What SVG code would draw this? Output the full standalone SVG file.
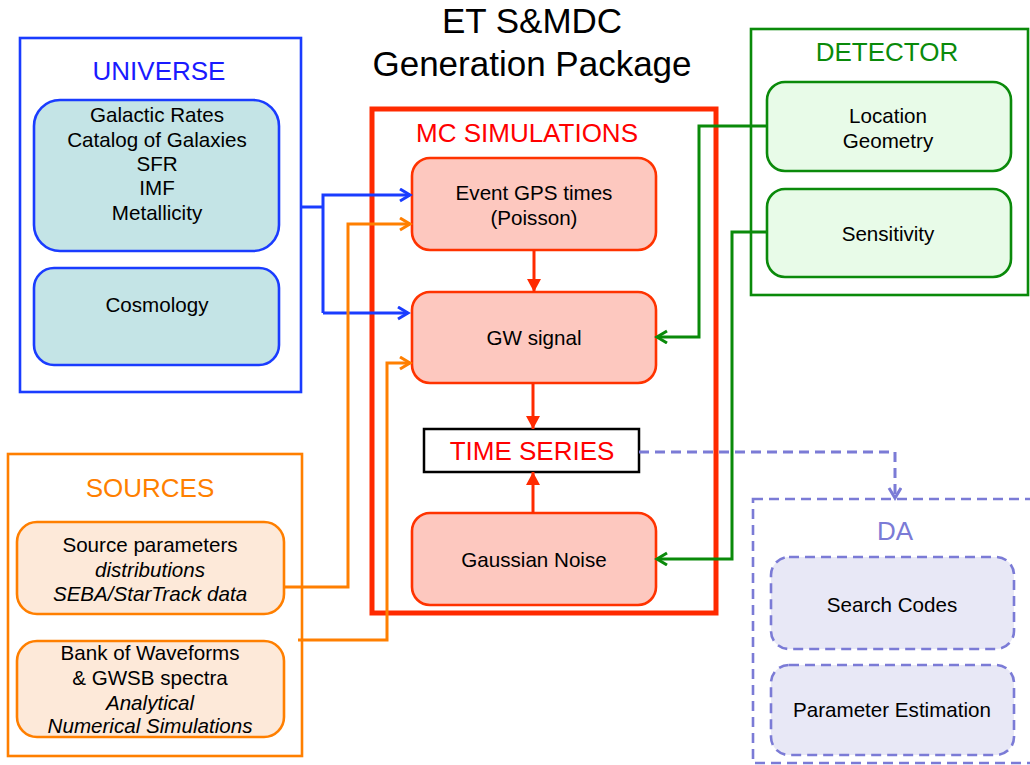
<svg xmlns="http://www.w3.org/2000/svg" width="1030" height="765" viewBox="0 0 1030 765">
<defs>
<style>
text{font-family:"Liberation Sans",Arial,sans-serif;text-anchor:middle;fill:#000}
.t20{font-size:20.6px}
.t26{font-size:26px}
.it{font-style:italic}
.outer{fill:#fff;stroke-width:2.6}
.inner{stroke-width:2.6}
.conn{fill:none;stroke-width:3}
</style>
<marker id="ab" markerUnits="userSpaceOnUse" markerWidth="14" markerHeight="16" refX="11" refY="7" orient="auto"><path d="M1,1 L11,7 L1,13" fill="none" stroke="#1a3cff" stroke-width="3"/></marker>
<marker id="ao" markerUnits="userSpaceOnUse" markerWidth="14" markerHeight="16" refX="11" refY="7" orient="auto"><path d="M1,1 L11,7 L1,13" fill="none" stroke="#ff7f00" stroke-width="3"/></marker>
<marker id="ag" markerUnits="userSpaceOnUse" markerWidth="14" markerHeight="16" refX="11" refY="7" orient="auto"><path d="M1,1 L11,7 L1,13" fill="none" stroke="#0a8a0a" stroke-width="3"/></marker>
<marker id="ap" markerUnits="userSpaceOnUse" markerWidth="14" markerHeight="16" refX="11" refY="7" orient="auto"><path d="M1,1 L11,7 L1,13" fill="none" stroke="#7b7bd6" stroke-width="3"/></marker>
<marker id="ar" markerUnits="userSpaceOnUse" markerWidth="16" markerHeight="16" refX="13" refY="7" orient="auto"><path d="M0,0 L13,7 L0,14 Z" fill="#ff2a00"/></marker>
</defs>

<g id="title">
<text x="532" y="33" style="font-size:35px">ET S&amp;MDC</text>
<text x="532" y="76" style="font-size:35px">Generation Package</text>
</g>

<g id="universe">
<rect class="outer" x="20" y="38" width="281" height="354" stroke="#1a3cff"/>
<text class="t26" x="159" y="80" style="fill:#1a1aff">UNIVERSE</text>
</g>
<g id="galactic">
<rect class="inner" x="34" y="100" width="245" height="151" rx="26" fill="#c4e4e6" stroke="#1a3cff"/>
<text class="t20" x="157" y="122">Galactic Rates</text>
<text class="t20" x="157" y="147">Catalog of Galaxies</text>
<text class="t20" x="157" y="171">SFR</text>
<text class="t20" x="157" y="195">IMF</text>
<text class="t20" x="157" y="220">Metallicity</text>
</g>
<g id="cosmology">
<rect class="inner" x="34" y="268" width="245" height="97" rx="20" fill="#c4e4e6" stroke="#1a3cff"/>
<text class="t20" x="157" y="312">Cosmology</text>
</g>

<g id="sources">
<rect class="outer" x="8" y="454" width="294" height="302" stroke="#ff7f00"/>
<text class="t26" x="150" y="497" style="fill:#ff7f00">SOURCES</text>
</g>
<g id="source-params">
<rect class="inner" x="17" y="522" width="267" height="92" rx="20" fill="#fde9d9" stroke="#ff7f00"/>
<text class="t20" x="150" y="552">Source parameters</text>
<text class="t20 it" x="150" y="577">distributions</text>
<text class="t20 it" x="150" y="601">SEBA/StarTrack data</text>
</g>
<g id="waveforms">
<rect class="inner" x="17" y="641" width="267" height="96" rx="20" fill="#fde9d9" stroke="#ff7f00"/>
<text class="t20" x="150" y="660">Bank of Waveforms</text>
<text class="t20" x="150" y="685">&amp; GWSB spectra</text>
<text class="t20 it" x="150" y="710">Analytical</text>
<text class="t20 it" x="150" y="733">Numerical Simulations</text>
</g>

<g id="mc">
<rect x="372" y="109" width="344" height="504" fill="none" stroke="#ff2a00" stroke-width="5"/>
<text class="t26" x="527" y="142" style="fill:#ff0000">MC SIMULATIONS</text>
</g>
<g id="event-gps">
<rect class="inner" x="412" y="158" width="244" height="92" rx="18" fill="#fdc8bf" stroke="#ff3300"/>
<text class="t20" x="534" y="200">Event GPS times</text>
<text class="t20" x="534" y="225">(Poisson)</text>
</g>
<g id="gw-signal">
<rect class="inner" x="412" y="292" width="244" height="91" rx="18" fill="#fdc8bf" stroke="#ff3300"/>
<text class="t20" x="534" y="345">GW signal</text>
</g>
<g id="time-series">
<rect x="424" y="429" width="215" height="43" fill="#fff" stroke="#000" stroke-width="2.5"/>
<text class="t26" x="532" y="460" style="fill:#ff0000">TIME SERIES</text>
</g>
<g id="gaussian-noise">
<rect class="inner" x="412" y="513" width="244" height="92" rx="18" fill="#fdc8bf" stroke="#ff3300"/>
<text class="t20" x="534" y="567">Gaussian Noise</text>
</g>

<g id="detector">
<rect class="outer" x="751" y="29" width="277" height="266" stroke="#0a8a0a"/>
<text class="t26" x="887" y="61" style="fill:#0a8a0a">DETECTOR</text>
</g>
<g id="location">
<rect class="inner" x="767" y="82" width="244" height="89" rx="18" fill="#e8fbe8" stroke="#0a8a0a"/>
<text class="t20" x="888" y="123">Location</text>
<text class="t20" x="888" y="148">Geometry</text>
</g>
<g id="sensitivity">
<rect class="inner" x="767" y="189" width="244" height="88" rx="18" fill="#e8fbe8" stroke="#0a8a0a"/>
<text class="t20" x="888" y="241">Sensitivity</text>
</g>

<g id="da">
<rect x="753" y="499" width="290" height="264" fill="#fff" stroke="#7b7bd6" stroke-width="2.6" stroke-dasharray="10,6"/>
<text class="t26" x="895" y="540" style="fill:#7b7bd6">DA</text>
</g>
<g id="search-codes">
<rect x="771" y="557" width="243" height="92" rx="18" fill="#e8e8f6" stroke="#7b7bd6" stroke-width="2.6" stroke-dasharray="10,6"/>
<text class="t20" x="892" y="612">Search Codes</text>
</g>
<g id="parameter-estimation">
<rect x="771" y="665" width="243" height="90" rx="18" fill="#e8e8f6" stroke="#7b7bd6" stroke-width="2.6" stroke-dasharray="10,6"/>
<text class="t20" x="892" y="717">Parameter Estimation</text>
</g>

<g id="connectors">
<path class="conn" stroke="#1a3cff" d="M301,207 H323"/>
<path class="conn" stroke="#1a3cff" d="M323,313 V195 H410" marker-end="url(#ab)"/>
<path class="conn" stroke="#1a3cff" d="M323,313 H408" marker-end="url(#ab)"/>
<path class="conn" stroke="#ff7f00" d="M284,587 H348 V224 H410" marker-end="url(#ao)"/>
<path class="conn" stroke="#ff7f00" d="M298,640 H387 V363 H410" marker-end="url(#ao)"/>
<path class="conn" stroke="#0a8a0a" d="M767,126 H699 V337 H657" marker-end="url(#ag)"/>
<path class="conn" stroke="#0a8a0a" d="M767,232 H732 V559 H657" marker-end="url(#ag)"/>
<path class="conn" stroke="#ff2a00" stroke-width="3.5" d="M534,250 V292" marker-end="url(#ar)"/>
<path class="conn" stroke="#ff2a00" stroke-width="3.5" d="M533,383 V429" marker-end="url(#ar)"/>
<path class="conn" stroke="#ff2a00" stroke-width="3.5" d="M533,513 V472" marker-end="url(#ar)"/>
<path class="conn" stroke="#7b7bd6" stroke-dasharray="10,6" d="M639,452 H895 V498" marker-end="url(#ap)"/>
</g>
</svg>
